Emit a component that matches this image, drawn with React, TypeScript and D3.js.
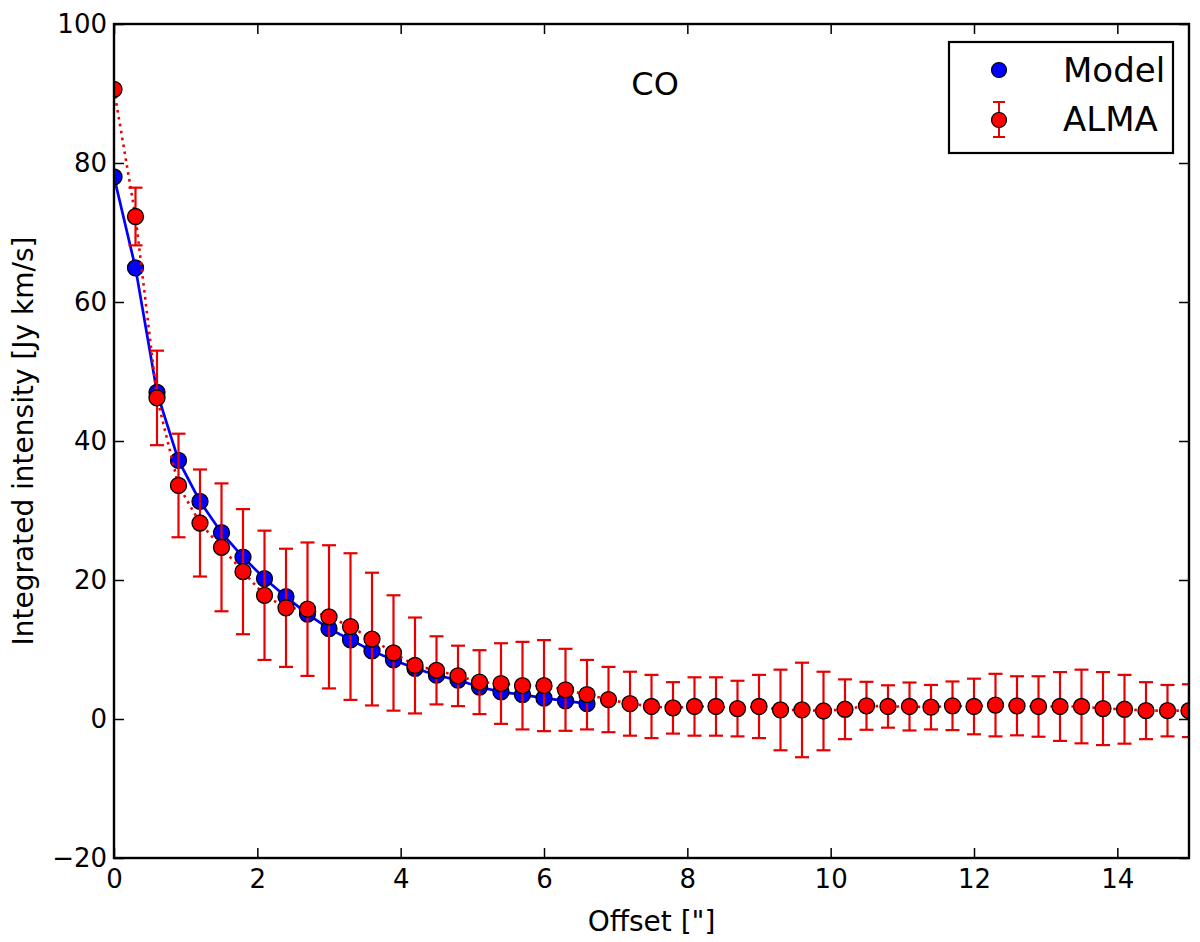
import { useEffect, useRef } from 'react'
import * as d3 from 'd3'

// Model profile (blue)
const modelOffset = [0, 0.3, 0.6, 0.9, 1.2, 1.5, 1.8, 2.1, 2.4, 2.7, 3.0, 3.3, 3.6, 3.9, 4.2, 4.5, 4.8, 5.1, 5.4, 5.7, 6.0, 6.3, 6.6]
const modelIntensity = [78.0, 64.9, 47.0, 37.2, 31.3, 26.8, 23.3, 20.2, 17.6, 15.1, 13.0, 11.4, 9.8, 8.5, 7.3, 6.3, 5.6, 4.6, 3.9, 3.5, 3.0, 2.6, 2.2]

// ALMA profile (red, with errors)
const almaOffset = [
  0, 0.3, 0.6, 0.9, 1.2, 1.5, 1.8, 2.1, 2.4, 2.7, 3.0, 3.3, 3.6, 3.9, 4.2, 4.5, 4.8, 5.1, 5.4, 5.7, 6.0, 6.3, 6.6, 6.9, 7.2, 7.5,
  7.8, 8.1, 8.4, 8.7, 9.0, 9.3, 9.6, 9.9, 10.2, 10.5, 10.8, 11.1, 11.4, 11.7, 12.0, 12.3, 12.6, 12.9, 13.2, 13.5, 13.8, 14.1,
  14.4, 14.7, 15.0,
]
const almaIntensity = [
  90.6, 72.3, 46.2, 33.6, 28.2, 24.7, 21.2, 17.8, 16.0, 15.8, 14.7, 13.3, 11.5, 9.5, 7.7, 7.0, 6.2, 5.3, 5.1, 4.8, 4.8, 4.2,
  3.5, 2.8, 2.2, 1.8, 1.6, 1.8, 1.8, 1.5, 1.8, 1.3, 1.3, 1.15, 1.4, 1.9, 1.8, 1.8, 1.7, 1.9, 1.8, 2.0, 1.9, 1.8, 1.8, 1.8,
  1.5, 1.4, 1.2, 1.2, 1.2,
]
const almaError = [
  0, 4.15, 6.8, 7.45, 7.7, 9.2, 9.0, 9.3, 8.5, 9.6, 10.3, 10.55, 9.55, 8.3, 6.9, 4.9, 4.35, 4.6, 5.8, 6.3, 6.55, 5.9, 5.0,
  4.7, 4.6, 4.55, 3.7, 4.2, 4.2, 4.0, 4.55, 5.8, 6.8, 5.65, 4.3, 3.45, 3.05, 3.45, 3.2, 3.5, 4.0, 4.5, 4.25, 4.35, 4.95, 5.3,
  5.25, 4.95, 4.1, 3.7, 3.8,
]

const xTicks = [0, 2, 4, 6, 8, 10, 12, 14]
const yTicks = [-20, 0, 20, 40, 60, 80, 100]

const FONT = '"DejaVu Sans", sans-serif'

export default function App() {
  const svgRef = useRef<SVGSVGElement>(null)

  useEffect(() => {
    if (!svgRef.current) return
    const svg = d3.select(svgRef.current)
    svg.selectAll('*').remove()

    const left = 114
    const right = 1189
    const top = 24
    const bottom = 858

    const x = d3.scaleLinear().domain([0, 15]).range([left, right])
    const y = d3.scaleLinear().domain([-20, 100]).range([bottom, top])

    svg.append('rect').attr('width', 1200).attr('height', 942).attr('fill', '#fff')

    svg
      .append('defs')
      .append('clipPath')
      .attr('id', 'plot-clip')
      .append('rect')
      .attr('x', left)
      .attr('y', top)
      .attr('width', right - left)
      .attr('height', bottom - top)

    const plot = svg.append('g').attr('clip-path', 'url(#plot-clip)')

    const model = modelOffset.map((o, i) => ({ x: o, y: modelIntensity[i] }))
    const alma = almaOffset.map((o, i) => ({ x: o, y: almaIntensity[i], e: almaError[i] }))

    // Model line + markers
    const line = d3
      .line<{ x: number; y: number }>()
      .x((d) => x(d.x))
      .y((d) => y(d.y))

    plot
      .append('path')
      .datum(model)
      .attr('fill', 'none')
      .attr('stroke', '#0000ff')
      .attr('stroke-width', 2.7)
      .attr('d', line)

    plot
      .selectAll('circle.model')
      .data(model)
      .join('circle')
      .attr('class', 'model')
      .attr('cx', (d) => x(d.x))
      .attr('cy', (d) => y(d.y))
      .attr('r', 8)
      .attr('fill', '#0000ff')
      .attr('stroke', '#000')
      .attr('stroke-width', 1.3)

    // ALMA dotted line
    plot
      .append('path')
      .datum(alma)
      .attr('fill', 'none')
      .attr('stroke', '#ee0000')
      .attr('stroke-width', 2.6)
      .attr('stroke-dasharray', '2.6,4.4')
      .attr('d', line)

    // Error bars
    const errG = plot.append('g').attr('stroke', '#e60000').attr('stroke-width', 2.2)
    alma.forEach((d) => {
      if (!d.e) return
      const cx = x(d.x)
      const y0 = y(d.y - d.e)
      const y1 = y(d.y + d.e)
      errG.append('line').attr('x1', cx).attr('x2', cx).attr('y1', y0).attr('y2', y1)
      errG.append('line').attr('x1', cx - 7).attr('x2', cx + 7).attr('y1', y0).attr('y2', y0)
      errG.append('line').attr('x1', cx - 7).attr('x2', cx + 7).attr('y1', y1).attr('y2', y1)
    })

    plot
      .selectAll('circle.alma')
      .data(alma)
      .join('circle')
      .attr('class', 'alma')
      .attr('cx', (d) => x(d.x))
      .attr('cy', (d) => y(d.y))
      .attr('r', 8)
      .attr('fill', '#ff0000')
      .attr('stroke', '#000')
      .attr('stroke-width', 1.3)

    // Axes (inward ticks, mirrored on top/right)
    const styleAxis = (g: d3.Selection<SVGGElement, unknown, null, undefined>) => {
      g.select('.domain').remove()
      g.selectAll('.tick line').attr('stroke', '#000').attr('stroke-width', 1.5)
      g.selectAll('.tick text').attr('fill', '#000').attr('font-family', FONT).attr('font-size', 26)
    }

    svg
      .append('g')
      .attr('transform', `translate(0,${bottom})`)
      .call(d3.axisBottom(x).tickValues(xTicks).tickSize(-10).tickPadding(12).tickFormat(d3.format('d')))
      .call(styleAxis)

    svg
      .append('g')
      .attr('transform', `translate(0,${top})`)
      .call(d3.axisTop(x).tickValues(xTicks).tickSize(-10).tickFormat(() => ''))
      .call(styleAxis)

    svg
      .append('g')
      .attr('transform', `translate(${left},0)`)
      .call(
        d3
          .axisLeft(y)
          .tickValues(yTicks)
          .tickSize(-10)
          .tickPadding(7)
          .tickFormat((d) => ((d as number) < 0 ? '\u2212' + Math.abs(d as number) : String(d)))
      )
      .call(styleAxis)

    svg
      .append('g')
      .attr('transform', `translate(${right},0)`)
      .call(d3.axisRight(y).tickValues(yTicks).tickSize(-10).tickFormat(() => ''))
      .call(styleAxis)

    // Frame
    svg
      .append('rect')
      .attr('x', left)
      .attr('y', top)
      .attr('width', right - left)
      .attr('height', bottom - top)
      .attr('fill', 'none')
      .attr('stroke', '#000')
      .attr('stroke-width', 2.4)

    // Labels
    svg
      .append('text')
      .attr('x', (left + right) / 2)
      .attr('y', 931)
      .attr('text-anchor', 'middle')
      .attr('font-family', FONT)
      .attr('font-size', 28)
      .text('Offset ["]')

    svg
      .append('text')
      .attr('transform', `translate(33,${(top + bottom) / 2}) rotate(-90)`)
      .attr('text-anchor', 'middle')
      .attr('font-family', FONT)
      .attr('font-size', 28)
      .text('Integrated intensity [Jy km/s]')

    svg
      .append('text')
      .attr('x', x(7.55))
      .attr('y', 95)
      .attr('text-anchor', 'middle')
      .attr('font-family', FONT)
      .attr('font-size', 32)
      .text('CO')

    // Legend
    const legend = svg.append('g')
    legend
      .append('rect')
      .attr('x', 949)
      .attr('y', 42)
      .attr('width', 224)
      .attr('height', 111)
      .attr('fill', '#fff')
      .attr('stroke', '#000')
      .attr('stroke-width', 2.2)

    legend
      .append('circle')
      .attr('cx', 999)
      .attr('cy', 70)
      .attr('r', 7.5)
      .attr('fill', '#0000ff')
      .attr('stroke', '#000')
      .attr('stroke-width', 1.2)
    legend
      .append('text')
      .attr('x', 1063)
      .attr('y', 82)
      .attr('font-family', FONT)
      .attr('font-size', 34)
      .text('Model')

    const lg = legend.append('g').attr('stroke', '#e60000').attr('stroke-width', 2)
    lg.append('line').attr('x1', 999).attr('x2', 999).attr('y1', 102).attr('y2', 137)
    lg.append('line').attr('x1', 993).attr('x2', 1005).attr('y1', 102).attr('y2', 102)
    lg.append('line').attr('x1', 993).attr('x2', 1005).attr('y1', 137).attr('y2', 137)
    legend
      .append('circle')
      .attr('cx', 999)
      .attr('cy', 120)
      .attr('r', 7.5)
      .attr('fill', '#ff0000')
      .attr('stroke', '#000')
      .attr('stroke-width', 1.2)
    legend
      .append('text')
      .attr('x', 1063)
      .attr('y', 131)
      .attr('font-family', FONT)
      .attr('font-size', 34)
      .text('ALMA')
  }, [])

  return (
    <svg
      ref={svgRef}
      width={1200}
      height={942}
      style={{ position: 'absolute', left: 0, top: 0, display: 'block' }}
    />
  )
}
